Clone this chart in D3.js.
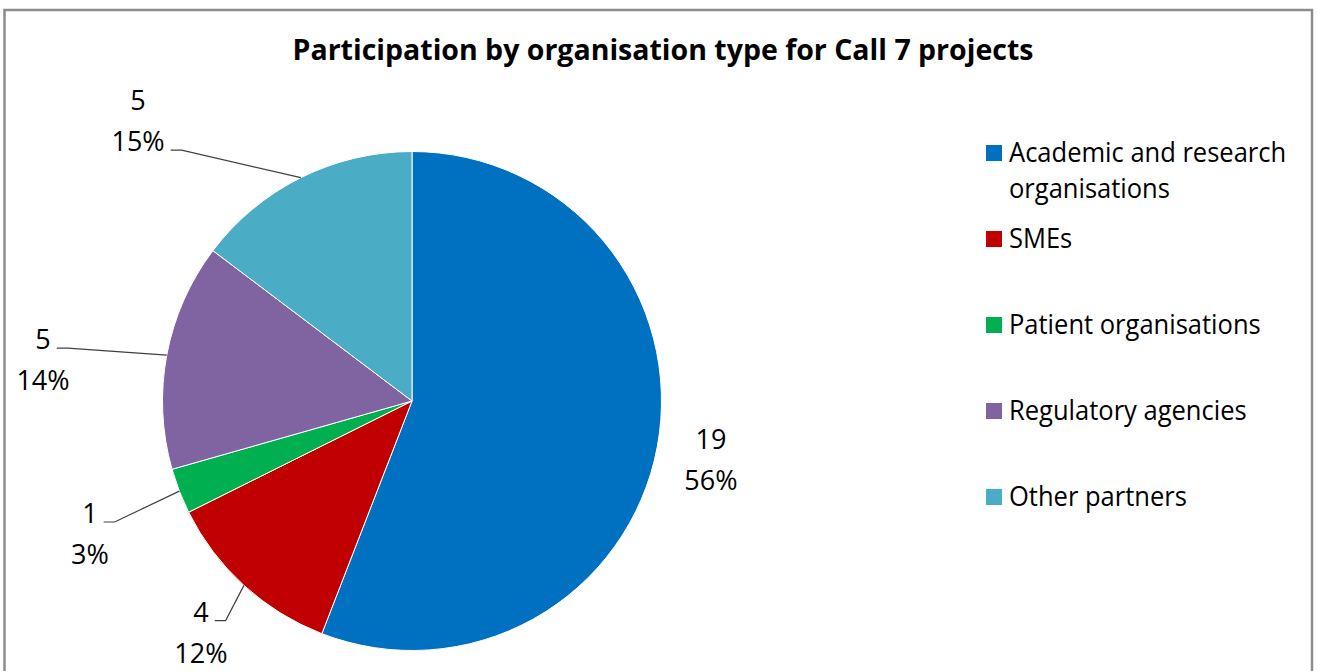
<!DOCTYPE html>
<html>
<head>
<meta charset="utf-8">
<script src="https://cdn.jsdelivr.net/npm/d3@7"></script>
<style>
  html, body { margin: 0; padding: 0; background: #fff; }
  svg { display: block; }
  text { font-family: "Open Sans", "Noto Sans", sans-serif; fill: #000; }
</style>
</head>
<body>
<svg id="chart" width="1317" height="671"></svg>
<script>
// ---- data ----
const title = "Participation by organisation type for Call 7 projects";
const categories = ["Academic and research organisations", "SMEs", "Patient organisations", "Regulatory agencies", "Other partners"];
const values = [19, 4, 1, 5, 5];
const percentLabels = ["56%", "12%", "3%", "14%", "15%"];
const colors = ["#0070C0", "#C00000", "#00B050", "#8064A2", "#4BACC6"];

// ---- layout (label placement as fractions of radius from centre) ----
const labelOffsets = [[1.198, 0.234], [-0.846, 0.926], [-1.291, 0.531], [-1.479, -0.166], [-1.098, -1.124]];
const leaderLine = [null, 0, 0, 0, 1]; // which text line the leader attaches to

const W = 1317, H = 671;
const svg = d3.select("#chart");

// frame
svg.append("rect").attr("x", 4.5).attr("y", 10).attr("width", 1307.5).attr("height", 700)
  .attr("fill", "#fff").attr("stroke", "#8c8c8c").attr("stroke-width", 2.5);

// title
svg.append("text").attr("x", 663).attr("y", 60).attr("text-anchor", "middle")
  .attr("font-size", 28.5).attr("font-weight", "bold").text(title);

const cx = 412, cy = 401, r = 249.5;
const g = svg.append("g").attr("transform", `translate(${cx},${cy})`);

const pie = d3.pie().sort(null).value(d => d)(values);
const arc = d3.arc().innerRadius(0).outerRadius(r);

g.selectAll("path.slice").data(pie).join("path")
  .attr("class", "slice")
  .attr("d", arc)
  .attr("fill", (d, i) => colors[i])
  .attr("stroke", "#fff").attr("stroke-width", 1);

// data labels
const fs = 27, lh = 41;
pie.forEach((d, i) => {
  const lx = labelOffsets[i][0] * r, ly = labelOffsets[i][1] * r;
  const lines = [String(values[i]), percentLabels[i]];
  const base0 = ly - lh / 2 + 10;
  const texts = lines.map((s, k) => g.append("text")
    .attr("x", lx).attr("y", base0 + k * lh)
    .attr("text-anchor", "middle").attr("font-size", fs).text(s));
  const li = leaderLine[i];
  if (li !== null) {
    const w = texts[li].node().getComputedTextLength();
    const sx = lx + w / 2 + 6, sy = base0 + li * lh - 1;
    const mid = (d.startAngle + d.endAngle) / 2;
    const ex = Math.sin(mid) * r, ey = -Math.cos(mid) * r;
    g.append("polyline")
      .attr("points", `${sx},${sy} ${sx + 11},${sy} ${ex},${ey}`)
      .attr("fill", "none").attr("stroke", "#404040").attr("stroke-width", 1.2);
  }
});

// legend
const legendY = d3.scalePoint().domain(categories).range([162, 506]);
const lg = svg.append("g");
const condense = 0.945;
categories.forEach((c, i) => {
  const y = legendY(c);
  lg.append("rect").attr("x", 986).attr("y", y - 17).attr("width", 16).attr("height", 16)
    .attr("fill", colors[i]);
  const t = lg.append("text").attr("x", 1009).attr("y", y).attr("font-size", fs);
  const words = c.split(" ");
  let line = [], lineNo = 0;
  let tspan = t.append("tspan").attr("x", 1009).attr("y", y);
  const spans = [tspan];
  words.forEach(wd => {
    line.push(wd);
    tspan.text(line.join(" "));
    if (tspan.node().getComputedTextLength() > 300 && line.length > 1) {
      line.pop();
      tspan.text(line.join(" "));
      line = [wd];
      lineNo++;
      tspan = t.append("tspan").attr("x", 1009).attr("y", y + lineNo * 36).text(wd);
      spans.push(tspan);
    }
  });
  spans.forEach(s => {
    const len = s.node().getComputedTextLength();
    s.attr("textLength", len * condense).attr("lengthAdjust", "spacingAndGlyphs");
  });
});
</script>
</body>
</html>
